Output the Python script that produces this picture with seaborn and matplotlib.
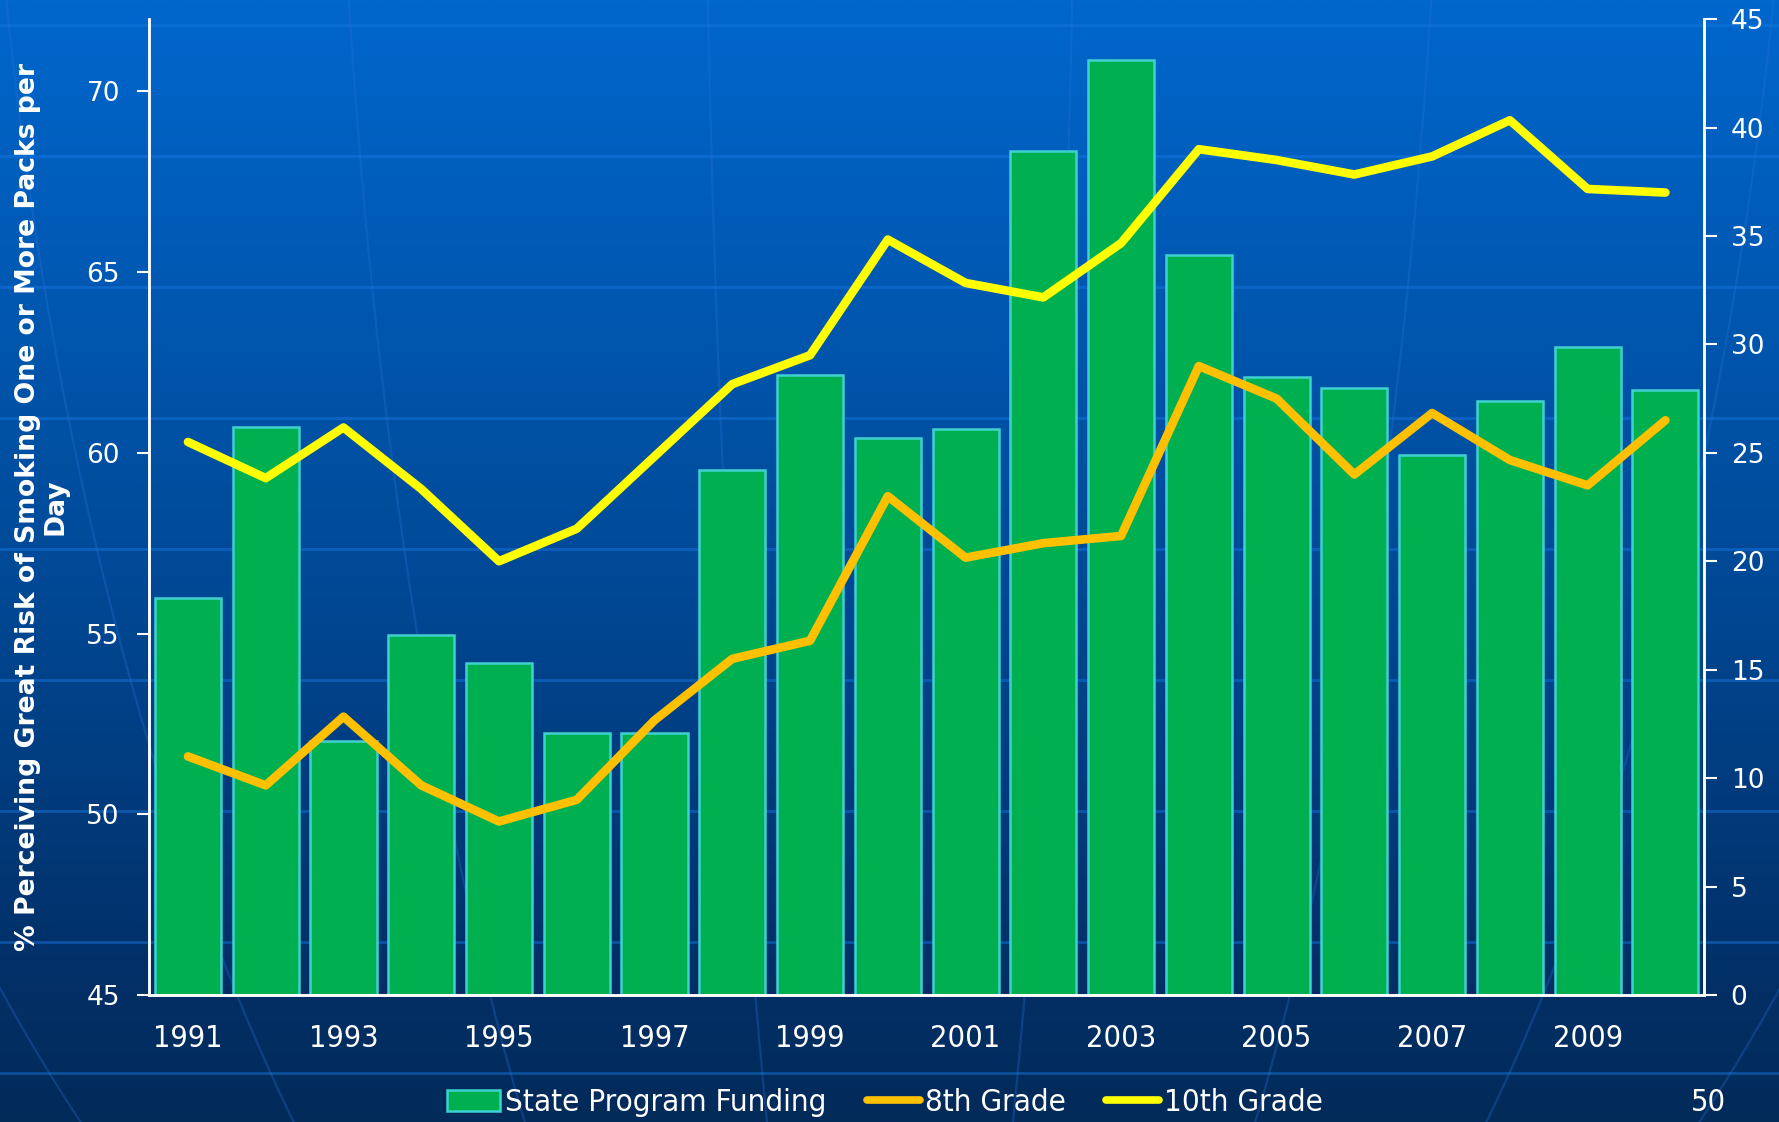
import numpy as np
import pandas as pd
import matplotlib
matplotlib.use("Agg")
import matplotlib.pyplot as plt
from matplotlib.colors import LinearSegmentedColormap
from matplotlib.patches import Patch
from matplotlib.lines import Line2D
import seaborn as sns

years = [str(y) for y in range(1991, 2011)]
funding = [18.3, 26.2, 11.7, 16.6, 15.3, 12.1, 12.1, 24.2, 28.6, 25.7,
           26.1, 38.9, 43.1, 34.1, 28.5, 28.0, 24.9, 27.4, 29.9, 27.9]
grade8 = [51.6, 50.8, 52.7, 50.8, 49.8, 50.4, 52.6, 54.3, 54.8, 58.8,
          57.1, 57.5, 57.7, 62.4, 61.5, 59.4, 61.1, 59.8, 59.1, 60.9]
grade10 = [60.3, 59.3, 60.7, 59.0, 57.0, 57.9, 59.9, 61.9, 62.7, 65.9,
           64.7, 64.3, 65.8, 68.4, 68.1, 67.7, 68.2, 69.2, 67.3, 67.2]

df = pd.DataFrame({"year": years, "funding": funding,
                   "grade8": grade8, "grade10": grade10})
df["pos"] = np.arange(len(df))

sns.set_style("white")
plt.rcParams["font.family"] = ["DejaVu Sans"]

fig = plt.figure(figsize=(17.79, 11.22), dpi=100)

# background: gradient, faint horizontal bands and globe meridians
bg = fig.add_axes([0, 0, 1, 1], zorder=-10)
cmap = LinearSegmentedColormap.from_list(
    "bg", [(0, "#0067cd"), (0.5, "#004a98"), (0.88, "#022f66"), (1, "#032b5a")])
grad = np.linspace(0, 1, 512).reshape(-1, 1)
bg.imshow(grad, aspect="auto", cmap=cmap, extent=[0, 1779, 1122, 0])
for yy in range(25, 1122, 131):
    bg.axhline(yy, color="#1a7ae6", lw=2, alpha=0.45)
cx, cy, R = 890, -500, 2150
lat = np.linspace(-90, 30, 300)
for lon in range(-75, 80, 10):
    xs = cx + R * np.cos(np.radians(lat)) * np.sin(np.radians(lon))
    ys = cy - R * np.sin(np.radians(lat))
    bg.plot(xs, ys, color="#2a72d8", lw=1.6, alpha=0.3)
bg.set_xlim(0, 1779)
bg.set_ylim(1122, 0)
bg.axis("off")

ax = fig.add_axes([0.0838, 0.1132, 0.8742, 0.8698])
ax.patch.set_alpha(0)
sns.barplot(data=df, x="year", y="funding", color="#00b050", saturation=1,
            width=0.85, edgecolor="#3fd0d0", linewidth=1.8, ax=ax)
ax.set_xlim(-0.5, len(df) - 0.5)
ax.set_xlabel("")
ax.set_ylabel("")

ax2 = ax.twinx()
sns.lineplot(data=df, x="pos", y="grade8", color="#ffc000", lw=6.2,
             solid_capstyle="round", ax=ax2)
sns.lineplot(data=df, x="pos", y="grade10", color="#ffff00", lw=6.2,
             solid_capstyle="round", ax=ax2)

# bars read on the right axis, lines on the left one
ax.yaxis.tick_right()
ax.set_ylim(0, 45)
ax.set_yticks(range(0, 46, 5))
ax2.yaxis.tick_left()
ax2.yaxis.set_label_position("left")
ax2.set_ylim(45, 72)
ax2.set_yticks(range(45, 71, 5))
ax2.set_xlim(-0.5, len(df) - 0.5)
ax2.set_xlabel("")
ax2.set_ylabel("% Perceiving Great Risk of Smoking One or More Packs per\nDay",
               color="white", fontsize=19.2, fontweight="bold", linespacing=1.1)
ax2.yaxis.set_label_coords(-0.0515, 0.5)

# x ticks at category boundaries, labels every other year
ax.set_xticks(np.arange(-0.5, len(df), 1))
ax.set_xticklabels([])
ax.tick_params(axis="x", direction="out", length=9, width=1.5, colors="white")
for i in range(0, len(df), 2):
    ax.text(i, -0.03, years[i], transform=ax.get_xaxis_transform(),
            ha="center", va="top", color="white", fontsize=22,
            fontstretch="condensed")

ax.tick_params(axis="y", direction="out", length=9, width=1.5, colors="white",
               labelsize=19, pad=10)
ax2.tick_params(axis="y", direction="out", length=9, width=1.5, colors="white",
                labelsize=19, pad=12)
ax2.tick_params(axis="x", length=0)
for a in (ax, ax2):
    for side in ("left", "right", "bottom"):
        a.spines[side].set_color("white")
        a.spines[side].set_linewidth(1.8)
    a.spines["top"].set_visible(False)

handles = [Patch(facecolor="#00b050", edgecolor="#3fd0d0", linewidth=1.8),
           Line2D([], [], color="#ffc000", lw=5.5),
           Line2D([], [], color="#ffff00", lw=5.5)]
leg = fig.legend(handles, ["State Program Funding", "8th Grade", "10th Grade"],
                 loc="center", bbox_to_anchor=(0.4975, 0.017), ncol=3,
                 frameon=False, handlelength=1.7, handletextpad=0.15,
                 columnspacing=1.3,
                 prop={"size": 22.5, "stretch": "condensed"})
for t in leg.get_texts():
    t.set_color("white")

fig.text(0.970, 0.017, "50", color="white", fontsize=22,
         fontstretch="condensed", ha="right", va="center")

fig.savefig("out.png", dpi=100)
